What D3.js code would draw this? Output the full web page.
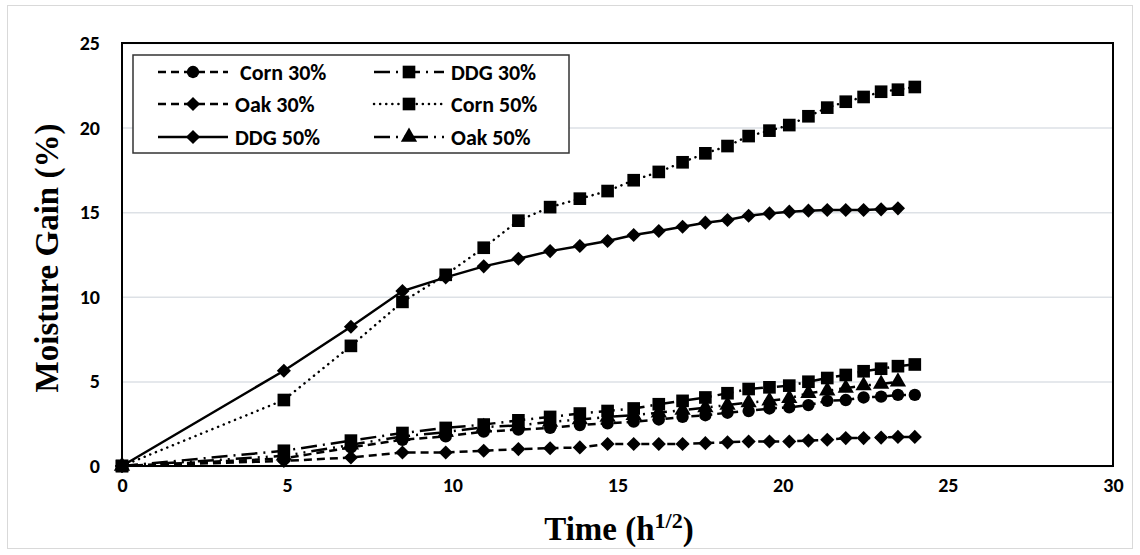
<!DOCTYPE html>
<html>
<head>
<meta charset="utf-8">
<script src="https://cdn.jsdelivr.net/npm/d3@7"></script>
<style>
  body { margin: 0; background: #fff; }
  svg { display: block; }
</style>
</head>
<body>
<svg width="1140" height="555"></svg>
<script>
// Time values (square root of hours), one per sampling day
const timeSqrtH = [0, 4.9, 6.93, 8.49, 9.8, 10.95, 12, 12.96, 13.86, 14.7, 15.49, 16.25, 16.97,
  17.66, 18.33, 18.97, 19.6, 20.2, 20.78, 21.35, 21.91, 22.45, 22.98, 23.49, 24];

// Moisture gain (%) per series
const corn30 = [0, 0.45, 1.1, 1.55, 1.75, 2.03, 2.15, 2.25, 2.42, 2.52, 2.62, 2.75, 2.9, 3.0,
  3.15, 3.25, 3.4, 3.47, 3.6, 3.85, 3.9, 4.05, 4.1, 4.2, 4.2];
const ddg30 = [0, 0.9, 1.5, 1.95, 2.25, 2.45, 2.7, 2.9, 3.1, 3.25, 3.4, 3.65, 3.85, 4.05, 4.3,
  4.55, 4.65, 4.75, 4.98, 5.2, 5.38, 5.6, 5.75, 5.9, 6.0];
const oak30 = [0, 0.3, 0.5, 0.8, 0.8, 0.9, 1.0, 1.05, 1.1, 1.3, 1.3, 1.3, 1.3, 1.35, 1.4, 1.45,
  1.45, 1.45, 1.5, 1.55, 1.65, 1.65, 1.68, 1.72, 1.72];
const corn50 = [0, 3.9, 7.1, 9.7, 11.3, 12.9, 14.5, 15.3, 15.8, 16.25, 16.89, 17.38, 17.95,
  18.48, 18.91, 19.5, 19.82, 20.15, 20.67, 21.18, 21.53, 21.81, 22.12, 22.24, 22.4];
const ddg50 = [0, 5.63, 8.23, 10.34, 11.15, 11.8, 12.25, 12.7, 13.0, 13.3, 13.65, 13.89, 14.14,
  14.38, 14.54, 14.79, 14.93, 15.03, 15.09, 15.13, 15.13, 15.13, 15.17, 15.23];
const oak50 = [0, 0.6, 1.25, 1.75, 2.0, 2.3, 2.4, 2.6, 2.75, 2.9, 3.0, 3.15, 3.3, 3.45, 3.6,
  3.75, 3.85, 4.0, 4.3, 4.45, 4.6, 4.75, 4.85, 4.98];

const seriesNames = ["Corn 30%", "DDG 30%", "Oak 30%", "Corn 50%", "DDG 50%", "Oak 50%"];
const xTicks = [0, 5, 10, 15, 20, 25, 30];
const yTicks = [0, 5, 10, 15, 20, 25];

const svg = d3.select("svg"),
  width = +svg.attr("width"),
  height = +svg.attr("height"),
  margin = { top: 43, right: 27, bottom: 89, left: 122 };

const x = d3.scaleLinear().domain([0, 30]).range([margin.left, width - margin.right]);
const y = d3.scaleLinear().domain([0, 25]).range([height - margin.bottom, margin.top]);

// line / marker styling per series
const styles = {
  "Corn 30%": { values: corn30, dash: "8,5", cap: "butt", marker: "circle" },
  "DDG 30%": { values: ddg30, dash: "16,6,2,6", cap: "butt", marker: "square" },
  "Oak 30%": { values: oak30, dash: "8,5", cap: "butt", marker: "diamond" },
  "Corn 50%": { values: corn50, dash: "0.1,6", cap: "round", marker: "square" },
  "DDG 50%": { values: ddg50, dash: null, cap: "butt", marker: "diamond" },
  "Oak 50%": { values: oak50, dash: "16,6,2,6,2,6", cap: "butt", marker: "triangle" },
};

const symbolFor = (m) => {
  if (m === "circle") return d3.symbol(d3.symbolCircle, 120)();
  if (m === "square") return d3.symbol(d3.symbolSquare, 160)();
  if (m === "diamond") return d3.symbol(d3.symbolSquare, 100)();
  return d3.symbol(d3.symbolTriangle, 115)();
};
const rot = (m) => (m === "diamond" ? " rotate(45)" : "");

// outer chart border
svg.append("rect")
  .attr("x", 7.5).attr("y", 5.5)
  .attr("width", 1125).attr("height", 543)
  .attr("fill", "#fff")
  .attr("stroke", "#d9d9d9");

// horizontal gridlines
svg.append("g")
  .attr("transform", `translate(${margin.left},0)`)
  .call(d3.axisLeft(y).tickValues(yTicks).tickSize(-(width - margin.left - margin.right)).tickFormat(""))
  .call((g) => g.select(".domain").remove())
  .selectAll("line")
  .attr("stroke", "#dde1e6")
  .attr("stroke-width", 1.5);

// tick labels
const tickFont = "Carlito, 'Open Sans', sans-serif";
svg.append("g")
  .attr("transform", `translate(0,${height - margin.bottom})`)
  .call(d3.axisBottom(x).tickValues(xTicks).tickSize(0).tickPadding(12))
  .call((g) => g.select(".domain").remove())
  .selectAll("text")
  .attr("font-family", tickFont)
  .attr("font-weight", "bold")
  .attr("font-size", 20)
  .attr("fill", "#000");

svg.append("g")
  .attr("transform", `translate(${margin.left},0)`)
  .call(d3.axisLeft(y).tickValues(yTicks).tickSize(0).tickPadding(22))
  .call((g) => g.select(".domain").remove())
  .selectAll("text")
  .attr("font-family", tickFont)
  .attr("font-weight", "bold")
  .attr("font-size", 20)
  .attr("fill", "#000");

// series lines
const line = d3.line().x((d) => x(d[0])).y((d) => y(d[1]));

seriesNames.forEach((name) => {
  const s = styles[name];
  const pts = s.values.map((v, i) => [timeSqrtH[i], v]);
  svg.append("path")
    .datum(pts)
    .attr("fill", "none")
    .attr("stroke", "#000")
    .attr("stroke-width", 2.5)
    .attr("stroke-linecap", s.cap)
    .attr("stroke-dasharray", s.dash)
    .attr("d", line);
  svg.append("g")
    .selectAll("path")
    .data(pts)
    .join("path")
    .attr("transform", (d) => `translate(${x(d[0])},${y(d[1])})` + rot(s.marker))
    .attr("d", symbolFor(s.marker))
    .attr("fill", "#000");
});

// plot area frame
svg.append("rect")
  .attr("x", margin.left).attr("y", margin.top)
  .attr("width", width - margin.left - margin.right)
  .attr("height", height - margin.top - margin.bottom)
  .attr("fill", "none")
  .attr("stroke", "#000")
  .attr("stroke-width", 2);

// legend
const legend = svg.append("g");
legend.append("rect")
  .attr("x", 133).attr("y", 55)
  .attr("width", 436).attr("height", 98)
  .attr("fill", "#fff")
  .attr("stroke", "#333")
  .attr("stroke-width", 1.5);

const colX = [158, 374];
const rowY = [72, 104, 137];
seriesNames.forEach((name, i) => {
  const s = styles[name];
  const lx = colX[i % 2], ly = rowY[Math.floor(i / 2)];
  const g = legend.append("g").attr("transform", `translate(${lx},${ly})`);
  g.append("line")
    .attr("x1", 0).attr("x2", 70)
    .attr("stroke", "#000")
    .attr("stroke-width", 2.5)
    .attr("stroke-linecap", s.cap)
    .attr("stroke-dasharray", s.dash);
  g.append("path")
    .attr("transform", "translate(35,0)" + rot(s.marker))
    .attr("d", symbolFor(s.marker))
    .attr("fill", "#000");
  g.append("text")
    .attr("x", name === "Corn 30%" ? 82 : 77)
    .attr("dy", "0.35em")
    .attr("font-family", tickFont)
    .attr("font-weight", "bold")
    .attr("font-size", 22)
    .text(name);
});

// axis titles
const titleFont = "'Liberation Serif', 'Times New Roman', serif";
const xt = svg.append("text")
  .attr("x", 619).attr("y", 540)
  .attr("text-anchor", "middle")
  .attr("font-family", titleFont)
  .attr("font-weight", "bold")
  .attr("font-size", 33);
xt.append("tspan").text("Time (h");
xt.append("tspan").attr("font-size", 22).attr("dy", -12).text("1/2");
xt.append("tspan").attr("dy", 12).text(")");

svg.append("text")
  .attr("transform", "translate(58,258) rotate(-90)")
  .attr("text-anchor", "middle")
  .attr("font-family", titleFont)
  .attr("font-weight", "bold")
  .attr("font-size", 33)
  .text("Moisture Gain (%)");
</script>
</body>
</html>
